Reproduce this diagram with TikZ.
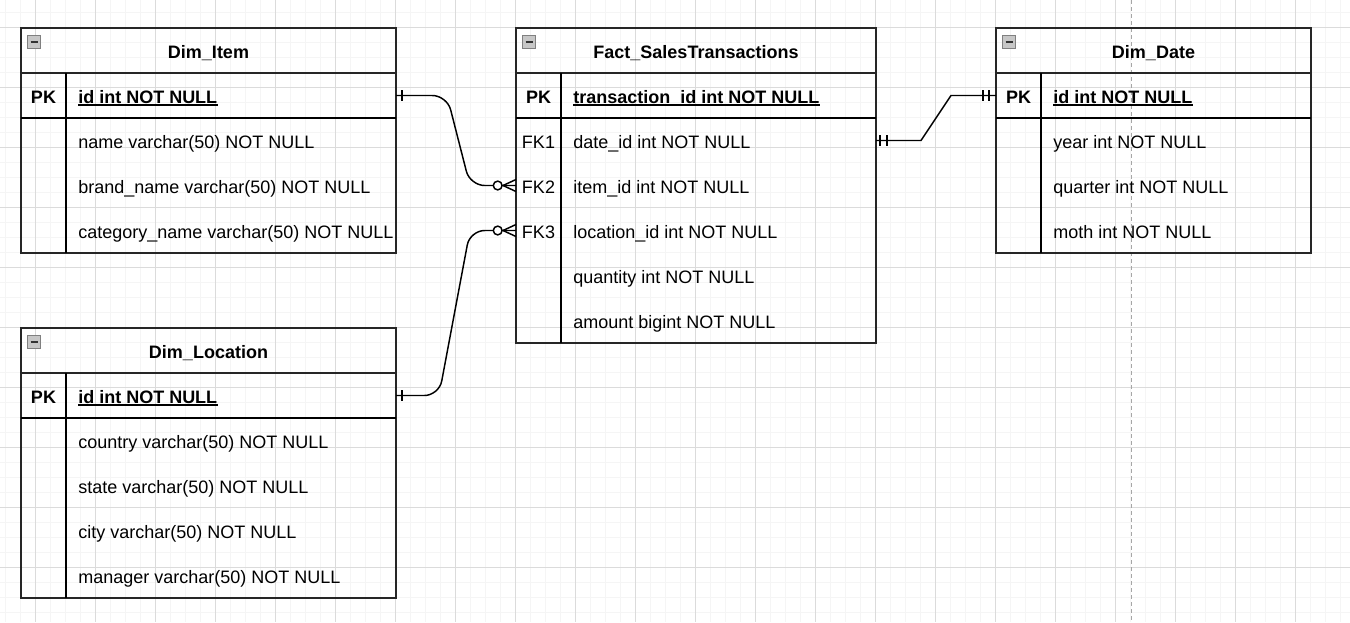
\documentclass[tikz,border=0pt]{standalone}
\usepackage{fontspec}
\setmainfont{Liberation Sans}
\usetikzlibrary{calc}
\tikzset{
  x=0.75pt, y=-0.75pt,
  minorgrid/.style={draw=black!4, line width=0.75pt},
  majorgrid/.style={draw=black!14, line width=0.75pt},
  frame/.style={draw=black!85, line width=1.2pt},
  sepline/.style={draw=black, line width=1.5pt},
  titletext/.style={font=\fontsize{13.5}{16}\selectfont\bfseries, inner sep=0, anchor=base},
  keytext/.style={font=\fontsize{13.5}{16}\selectfont, inner sep=0, anchor=base},
  pkkeytext/.style={keytext, font=\fontsize{13.5}{16}\selectfont\bfseries},
  fieldtext/.style={font=\fontsize{13.5}{16}\selectfont, inner sep=0, anchor=base west},
  pkfieldtext/.style={fieldtext, font=\fontsize{13.5}{16}\selectfont\bfseries},
  uline/.style={draw=black, line width=1.1pt},
  rowbox/.style={inner sep=0, outer sep=0, minimum height=33.75pt},
  conn/.style={draw=black, line width=1.1pt},
  iconbox/.style={draw=black!50, fill=black!22, line width=0.9pt},
}
% frame of a table: x0, y0, width, number of body rows
\newcommand\erframe[4]{%
  \draw[frame] (#1,#2) rectangle (#1+#3,#2+90+45*#4);
  \draw[frame] (#1,#2+45) -- (#1+#3,#2+45);
  \draw[sepline] (#1,#2+90) -- (#1+#3,#2+90);
  \draw[sepline] (#1+45,#2+45) -- (#1+45,#2+90+45*#4);
  \draw[iconbox] (#1+6.5,#2+7.5) rectangle ++(13,13);
  \draw[draw=black!80, line width=1.2pt] (#1+9.5,#2+14) -- ++(7,0);
}
% a row: name, x0, row centre y, key, text
\newcommand\errow[5]{%
  \node[keytext] (#1k) at (#2+22.5,#3+7.8) {#4};
  \node[fieldtext] (#1) at (#2+57,#3+7.8) {#5};
}
\newcommand\erpk[4]{% name, x0, row centre y, text
  \node[pkkeytext] (#1k) at (#2+22.5,#3+7.8) {PK};
  \node[pkfieldtext] (#1) at (#2+57,#3+7.8) {#4};
  \draw[uline] ($(#1.base west)+(0,1.8)$) -- ($(#1.base east)+(0,1.8)$);
}
\begin{document}
\begin{tikzpicture}
\useasboundingbox (0,0) rectangle (1350,622);
\fill[white] (0,0) rectangle (1350,622);
% grid
\foreach \gx in {5,20,...,1350} \draw[minorgrid] (\gx,0) -- (\gx,622);
\foreach \gy in {12,27,...,622} \draw[minorgrid] (0,\gy) -- (1350,\gy);
\foreach \gx in {35,95,...,1350} \draw[majorgrid] (\gx,0) -- (\gx,622);
\foreach \gy in {27,87,...,622} \draw[majorgrid] (0,\gy) -- (1350,\gy);
\draw[draw=black!35, line width=0.75pt, dash pattern=on 3pt off 2.25pt] (1131.5,0) -- (1131.5,622);

% ---------- Dim_Item ----------
\erframe{21}{28}{375}{3}
\node[titletext] (itemT) at (208.5,58.3) {Dim\_Item};
\erpk{itemPK}{21}{95.5}{id int NOT NULL}
\errow{itemR1}{21}{140.5}{}{name varchar(50) NOT NULL}
\errow{itemR2}{21}{185.5}{}{brand\_name varchar(50) NOT NULL}
\errow{itemR3}{21}{230.5}{}{category\_name varchar(50) NOT NULL}
\node[rowbox, minimum width=281.25pt] (itemPKrow) at (208.5,95.5) {};

% ---------- Dim_Location ----------
\erframe{21}{328}{375}{4}
\node[titletext] (locT) at (208.5,358.3) {Dim\_Location};
\erpk{locPK}{21}{395.5}{id int NOT NULL}
\errow{locR1}{21}{440.5}{}{country varchar(50) NOT NULL}
\errow{locR2}{21}{485.5}{}{state varchar(50) NOT NULL}
\errow{locR3}{21}{530.5}{}{city varchar(50) NOT NULL}
\errow{locR4}{21}{575.5}{}{manager varchar(50) NOT NULL}
\node[rowbox, minimum width=281.25pt] (locPKrow) at (208.5,395.5) {};

% ---------- Fact_SalesTransactions ----------
\erframe{516}{28}{360}{5}
\node[titletext] (factT) at (696,58.3) {Fact\_SalesTransactions};
\erpk{factPK}{516}{95.5}{transaction\_id int NOT NULL}
\errow{factR1}{516}{140.5}{FK1}{date\_id int NOT NULL}
\errow{factR2}{516}{185.5}{FK2}{item\_id int NOT NULL}
\errow{factR3}{516}{230.5}{FK3}{location\_id int NOT NULL}
\errow{factR4}{516}{275.5}{}{quantity int NOT NULL}
\errow{factR5}{516}{320.5}{}{amount bigint NOT NULL}
\node[rowbox, minimum width=270pt] (factFK1row) at (696,140.5) {};
\node[rowbox, minimum width=270pt] (factFK2row) at (696,185.5) {};
\node[rowbox, minimum width=270pt] (factFK3row) at (696,230.5) {};

% ---------- Dim_Date ----------
\erframe{996}{28}{315}{3}
\node[titletext] (dateT) at (1153.5,58.3) {Dim\_Date};
\erpk{datePK}{996}{95.5}{id int NOT NULL}
\errow{dateR1}{996}{140.5}{}{year int NOT NULL}
\errow{dateR2}{996}{185.5}{}{quarter int NOT NULL}
\errow{dateR3}{996}{230.5}{}{moth int NOT NULL}
\node[rowbox, minimum width=236.25pt] (datePKrow) at (1153.5,95.5) {};

% ---------- connectors ----------
% Dim_Item.id -> Fact.item_id
\draw[conn, rounded corners=11pt] (itemPKrow.east) -- (447,95.5) -- (470,185.5) -- (factFK2row.west);
\draw[conn] ($(itemPKrow.east)+(6,-5.5)$) -- ++(0,11);
\draw[conn] ($(factFK2row.west)+(-13,0)$) -- ($(factFK2row.west)+(0,-6)$);
\draw[conn] ($(factFK2row.west)+(-13,0)$) -- ($(factFK2row.west)+(0,6)$);
\draw[conn, fill=white] ($(factFK2row.west)+(-18.3,0)$) circle[radius=3.3pt];

% Dim_Location.id -> Fact.location_id
\draw[conn, rounded corners=11pt] (locPKrow.east) -- (439,395.5) -- (470,230.5) -- (factFK3row.west);
\draw[conn] ($(locPKrow.east)+(6,-5.5)$) -- ++(0,11);
\draw[conn] ($(factFK3row.west)+(-13,0)$) -- ($(factFK3row.west)+(0,-6)$);
\draw[conn] ($(factFK3row.west)+(-13,0)$) -- ($(factFK3row.west)+(0,6)$);
\draw[conn, fill=white] ($(factFK3row.west)+(-18.3,0)$) circle[radius=3.3pt];

% Fact.date_id -> Dim_Date.id
\draw[conn] (factFK1row.east) -- (921,140.5) -- (951,95.5) -- (datePKrow.west);
\draw[conn] ($(factFK1row.east)+(4,-5.5)$) -- ++(0,11);
\draw[conn] ($(factFK1row.east)+(11,-5.5)$) -- ++(0,11);
\draw[conn] ($(datePKrow.west)+(-13,-5.5)$) -- ++(0,11);
\draw[conn] ($(datePKrow.west)+(-7,-5.5)$) -- ++(0,11);
\end{tikzpicture}
\end{document}
